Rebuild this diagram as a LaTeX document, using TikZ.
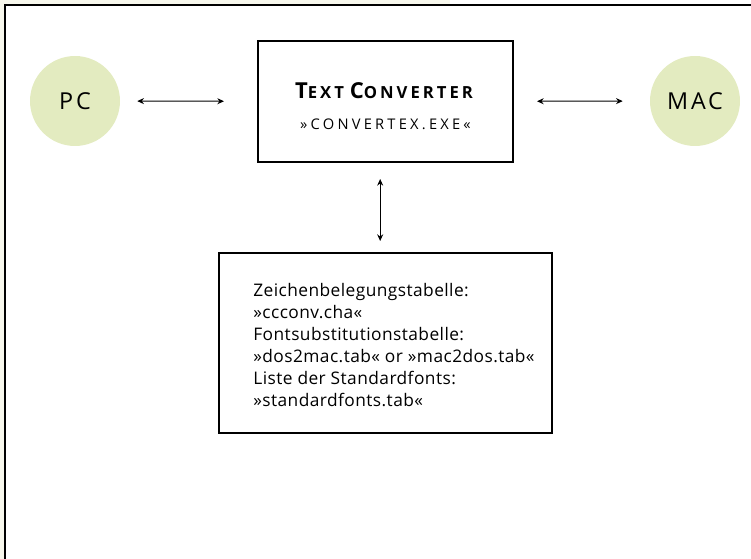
\documentclass[tikz,border=0pt]{standalone}
\usepackage{fontspec}
\setmainfont{Open Sans}
\newfontfamily\spacedsans[LetterSpace=12]{Open Sans}
\newfontfamily\titlesans[LetterSpace=18]{Open Sans}
\newfontfamily\widesans[LetterSpace=22]{Open Sans}
\usetikzlibrary{arrows.meta, positioning}
\definecolor{hostGreen}{HTML}{E3EBC0}
\definecolor{paperCream}{HTML}{F7F7EC}
\tikzset{
    host_circle/.style={
        circle, fill=hostGreen, minimum size=67.5pt, inner sep=0pt,
        font=\spacedsans\fontsize{17.5}{20}\selectfont
    },
    box_conv/.style={
        rectangle, draw=black, line width=1.5pt,
        minimum width=191.25pt, minimum height=90.75pt, align=center
    },
    box_tables/.style={
        rectangle, draw=black, line width=1.5pt,
        minimum width=249.75pt, minimum height=135pt,
        font=\addfontfeatures{LetterSpace=2.5}\fontsize{13}{16.5}\selectfont
    },
    link_arrow/.style={
        {Stealth[length=5pt,width=4.5pt]}-{Stealth[length=5pt,width=4.5pt]}, line width=0.75pt
    }
}
\newcommand{\bigsc}[2]{{\fontsize{16.5}{18}\selectfont #1}{\fontsize{12.5}{14}\selectfont #2}}

\begin{document}
\begin{tikzpicture}[x=0.75pt, y=-0.75pt]
    \useasboundingbox (0, 0) rectangle (751, 559);
    % page edge
    \fill[paperCream] (0, 0) rectangle (450, 4);
    \fill[paperCream] (0, 0) rectangle (4, 559);
    \draw[line width=1.5pt] (5, 559) -- (5, 5) -- (751, 5);

    \node[host_circle] (pc) at (75, 101) {PC};
    \node[host_circle] (mac) at (695, 101) {MAC};
    \node[box_conv] (conv) at (385.5, 101.5)
        {\rule{0pt}{19pt}\titlesans\textbf{\bigsc{T}{EXT} \bigsc{C}{ONVERTER}}\\[11pt]
         {\widesans\fontsize{11}{13}\selectfont »CONVERTEX.EXE«}};
    \node[box_tables] (tables) at (385.5, 343)
        {\begin{tabular}{@{\hspace{12.75pt}}l@{}}
         \rule{0pt}{17.5pt}Zeichenbelegungstabelle:\\
         »ccconv.cha«\\
         Fontsubstitutionstabelle:\\
         »dos2mac.tab« or »mac2dos.tab«\\
         Liste der Standardfonts:\\
         »standardfonts.tab«
         \end{tabular}};

    \draw[link_arrow, shorten <=12.75pt, shorten >=24.75pt] (pc) -- (conv);
    \draw[link_arrow, shorten <=17.25pt, shorten >=20.25pt] (conv) -- (mac);
    \draw[link_arrow, shorten <=12pt, shorten >=8.25pt]
        ([xshift=-4pt]conv.south) -- ([xshift=-4pt]tables.north);
\end{tikzpicture}
\end{document}
